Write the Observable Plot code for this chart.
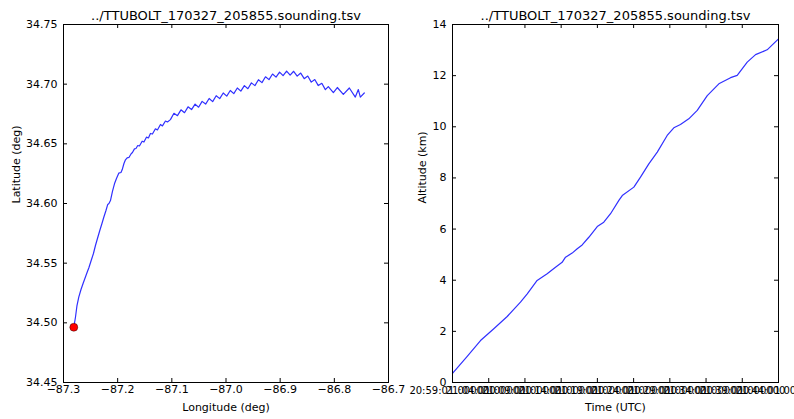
<!DOCTYPE html>
<html>
<head>
<meta charset="utf-8">
<script src="https://cdn.jsdelivr.net/npm/d3@7"></script>
<script src="https://cdn.jsdelivr.net/npm/@observablehq/plot@0.6"></script>
<style>
  html, body { margin: 0; padding: 0; background: #fff; overflow: hidden; }
  #fig { display: flex; width: 794px; height: 419px; }
  #fig svg { overflow: visible; }
</style>
</head>
<body>
<div id="fig"></div>
<script>
// Balloon sounding TTUBOLT 170327_205855: ground track and altitude profile.
const fileTitle = "../TTUBOLT_170327_205855.sounding.tsv";

// Ground track (deg)
const trackLon = [
  -87.2810, -87.2779, -87.2751, -87.2718, -87.2677, -87.2637, -87.2585, -87.2563,
  -87.2530, -87.2489, -87.2447, -87.2410, -87.2373, -87.2330, -87.2290, -87.2256,
  -87.2216, -87.2183, -87.2161, -87.2133, -87.2096, -87.2059, -87.2022, -87.1980,
  -87.1939, -87.1917, -87.1884, -87.1856, -87.1825, -87.1792, -87.1751, -87.1727,
  -87.1690, -87.1662, -87.1629, -87.1598, -87.1548, -87.1515, -87.1469, -87.1432,
  -87.1395, -87.1358, -87.1303, -87.1266, -87.1210, -87.1173, -87.1118, -87.1081,
  -87.1026, -87.0961, -87.0896, -87.0831, -87.0766, -87.0701, -87.0636, -87.0571,
  -87.0506, -87.0441, -87.0376, -87.0311, -87.0246, -87.0181, -87.0116, -87.0051,
  -86.9986, -86.9921, -86.9856, -86.9791, -86.9726, -86.9661, -86.9596, -86.9531,
  -86.9466, -86.9401, -86.9336, -86.9271, -86.9206, -86.9141, -86.9076, -86.9011,
  -86.8946, -86.8881, -86.8816, -86.8751, -86.8686, -86.8621, -86.8556, -86.8491,
  -86.8426, -86.8361, -86.8296, -86.8231, -86.8166, -86.8111, -86.8018, -86.7945,
  -86.7834, -86.7723, -86.7613, -86.7557, -86.7520, -86.7447
];
const trackLat = [
  34.4963, 34.5047, 34.5145, 34.5215, 34.5279, 34.5332, 34.5397, 34.5424,
  34.5464, 34.5522, 34.5581, 34.5648, 34.5707, 34.5774, 34.5832, 34.5885,
  34.5941, 34.5992, 34.6000, 34.6025, 34.6101, 34.6165, 34.6210, 34.6254,
  34.6260, 34.6282, 34.6335, 34.6366, 34.6383, 34.6386, 34.6417, 34.6427,
  34.6458, 34.6461, 34.6486, 34.6482, 34.6522, 34.6515, 34.6556, 34.6549,
  34.6587, 34.6582, 34.6626, 34.6616, 34.6662, 34.6650, 34.6691, 34.6683,
  34.6703, 34.6756, 34.6736, 34.6785, 34.6761, 34.6810, 34.6787, 34.6833,
  34.6807, 34.6856, 34.6833, 34.6880, 34.6854, 34.6903, 34.6879, 34.6926,
  34.6900, 34.6947, 34.6921, 34.6968, 34.6942, 34.6988, 34.6962, 34.7011,
  34.6988, 34.7037, 34.7013, 34.7062, 34.7038, 34.7085, 34.7059, 34.7101,
  34.7071, 34.7110, 34.7076, 34.7108, 34.7067, 34.7093, 34.7046, 34.7068,
  34.7017, 34.7039, 34.6988, 34.7007, 34.6954, 34.6980, 34.6930, 34.6972,
  34.6914, 34.6968, 34.6892, 34.6955, 34.6892, 34.6926
];
const lonTicks = [-87.3, -87.2, -87.1, -87.0, -86.9, -86.8, -86.7];
const latTicks = [34.45, 34.50, 34.55, 34.60, 34.65, 34.70, 34.75];

// Altitude profile
const sampleTimes = [
  "20:59:01", "21:01:03", "21:02:53", "21:04:43", "21:06:34", "21:08:24", "21:09:20", "21:10:42",
  "21:12:05", "21:13:14", "21:14:09", "21:14:37", "21:15:32", "21:16:14", "21:16:55", "21:17:50",
  "21:19:00", "21:19:54", "21:20:50", "21:21:59", "21:22:27", "21:24:03", "21:24:58", "21:26:07",
  "21:27:17", "21:28:39", "21:29:34", "21:30:29", "21:31:38", "21:32:48", "21:34:11", "21:35:47",
  "21:37:24", "21:38:19", "21:39:42", "21:40:51", "21:42:27", "21:44:01"
];
const altitudeKm = [
  0.36, 1.02, 1.64, 2.10, 2.58, 3.14, 3.47, 3.99,
  4.25, 4.51, 4.70, 4.90, 5.06, 5.23, 5.38, 5.68,
  6.10, 6.27, 6.60, 7.12, 7.31, 7.64, 8.03, 8.55,
  9.01, 9.66, 9.96, 10.09, 10.31, 10.64, 11.22, 11.68,
  11.92, 12.01, 12.53, 12.82, 13.01, 13.44
];
const timeTicks = [
  "20:59:01", "21:04:01", "21:09:01", "21:14:01", "21:19:01",
  "21:24:01", "21:29:01", "21:34:01", "21:39:01", "21:44:01"
];
const altTicks = [0, 2, 4, 6, 8, 10, 12, 14];

const parseTime = d3.utcParse("%H:%M:%S");
const fmtTime = d3.utcFormat("%H:%M:%S.%f");
const minus = s => s.replace("-", "\u2212");

const track = trackLon.map((lon, i) => ({lon, lat: trackLat[i]}));
const profile = sampleTimes.map((t, i) => ({time: parseTime(t), alt: altitudeKm[i]}));
const tickDates = timeTicks.map(parseTime);

const baseStyle = {
  fontFamily: "DejaVu Sans, sans-serif",
  fontSize: "11px",
  color: "#000",
  background: "transparent",
  overflow: "visible"
};
const tickLen = 4;
const lineColor = "#3030ff";

// Inward tick marks on all four sides of a frame
function innerTicks(xt, yt, fw, fh) {
  return [
    Plot.tickX(xt, {x: d => d, insetTop: fh - tickLen, stroke: "#000"}),
    Plot.tickX(xt, {x: d => d, insetBottom: fh - tickLen, stroke: "#000"}),
    Plot.tickY(yt, {y: d => d, insetRight: fw - tickLen, stroke: "#000"}),
    Plot.tickY(yt, {y: d => d, insetLeft: fw - tickLen, stroke: "#000"})
  ];
}

// Axis titles and panel title
function labels(xLabel, yLabel, yDx) {
  return [
    Plot.text([xLabel], {text: d => d, frameAnchor: "bottom", lineAnchor: "middle", dy: 25}),
    Plot.text([yLabel], {text: d => d, frameAnchor: "left", lineAnchor: "middle", rotate: -90, dx: yDx}),
    Plot.text([fileTitle], {text: d => d, frameAnchor: "top", lineAnchor: "middle", dy: -9, fontSize: 13})
  ];
}

// Left: latitude vs longitude
const left = Plot.plot({
  width: 397, height: 419,
  marginLeft: 63, marginRight: 9, marginTop: 24, marginBottom: 37,
  style: baseStyle,
  x: {domain: [-87.3, -86.7]},
  y: {domain: [34.45, 34.75]},
  marks: [
    Plot.axisX(lonTicks, {anchor: "bottom", tickSize: 0, tickPadding: 3, tickFormat: d => minus(d.toFixed(1)), label: null}),
    Plot.axisY(latTicks, {anchor: "left", tickSize: 0, tickPadding: 6, tickFormat: d => d.toFixed(2), label: null}),
    ...innerTicks(lonTicks, latTicks, 325, 358),
    Plot.line(track, {x: "lon", y: "lat", stroke: lineColor, strokeWidth: 1.2}),
    Plot.dot(track.slice(0, 1), {x: "lon", y: "lat", r: 4, fill: "#ff0000", stroke: "#000", strokeWidth: 0.4}),
    Plot.frame({stroke: "#000", strokeWidth: 1}),
    ...labels("Longitude (deg)", "Latitude (deg)", -47)
  ]
});

// Right: altitude vs time
const right = Plot.plot({
  width: 397, height: 419,
  marginLeft: 55, marginRight: 16, marginTop: 24, marginBottom: 37,
  style: baseStyle,
  x: {type: "utc", domain: [tickDates[0], tickDates[tickDates.length - 1]]},
  y: {domain: [0, 14]},
  marks: [
    Plot.axisX(tickDates, {anchor: "bottom", tickSize: 0, tickPadding: 4, tickFormat: fmtTime, fontSize: 10, label: null}),
    Plot.axisY(altTicks, {anchor: "left", tickSize: 0, tickPadding: 6, tickFormat: d => String(d), label: null}),
    ...innerTicks(tickDates, altTicks, 326, 358),
    Plot.line(profile, {x: "time", y: "alt", stroke: lineColor, strokeWidth: 1.2}),
    Plot.frame({stroke: "#000", strokeWidth: 1}),
    ...labels("Time (UTC)", "Altitude (km)", -30)
  ]
});

const fig = document.getElementById("fig");
fig.append(left, right);
</script>
</body>
</html>
